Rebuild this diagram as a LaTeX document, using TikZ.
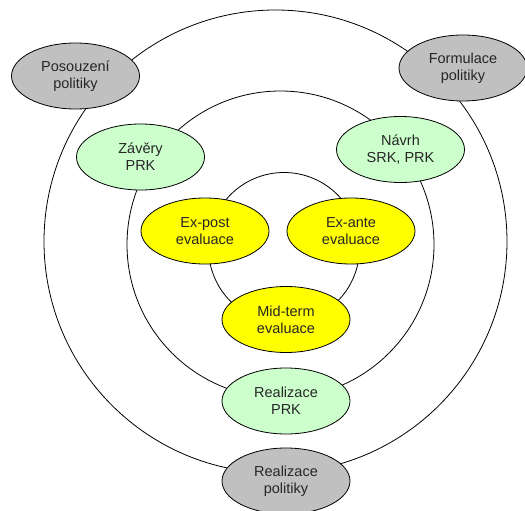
\documentclass[tikz,border=0pt]{standalone}
\usepackage{fontspec}
\setmainfont{Liberation Sans}
\usetikzlibrary{shapes.geometric}
\definecolor{polgray}{HTML}{C0C0C0}
\definecolor{prkgreen}{HTML}{CCFFCC}
\definecolor{evalyellow}{HTML}{FFFF00}
\begin{document}
\begin{tikzpicture}[x=1pt,y=-1pt,
  ring/.style={draw=black,line width=0.8pt},
  stage/.style={ellipse,draw=black,line width=0.8pt,minimum width=128pt,minimum height=66pt,inner sep=0pt,align=center,font=\fontsize{14.5}{17}\selectfont,text=black!85},
  pol/.style={stage,fill=polgray},
  prk/.style={stage,fill=prkgreen},
  ev/.style={stage,fill=evalyellow}]
\useasboundingbox (0,0) rectangle (525,511);
\begin{scope}
\clip (0,0) rectangle (525,511);
\draw[ring] (275.5,241.5) circle[radius=231.5];
\draw[ring] (280.5,244.5) circle[radius=153.5];
\draw[ring] (284,248) circle[radius=75.5];
\node[pol] (posouzeni) at (75.5,76) {Posouzení\\politiky};
\node[pol] (formulace) at (463,68) {Formulace\\politiky};
\node[pol] (realpol) at (286,481) {Realizace\\politiky};
\node[prk] (zavery) at (140.5,157) {Závěry\\PRK};
\node[prk] (navrh) at (400.5,149.5) {Návrh\\SRK, PRK};
\node[prk] (realprk) at (286,401) {Realizace\\PRK};
\node[ev] (expost) at (205,231) {Ex-post\\evaluace};
\node[ev] (exante) at (351,231) {Ex-ante\\evaluace};
\node[ev] (midterm) at (286,319.5) {Mid-term\\evaluace};
\end{scope}
\end{tikzpicture}
\end{document}
